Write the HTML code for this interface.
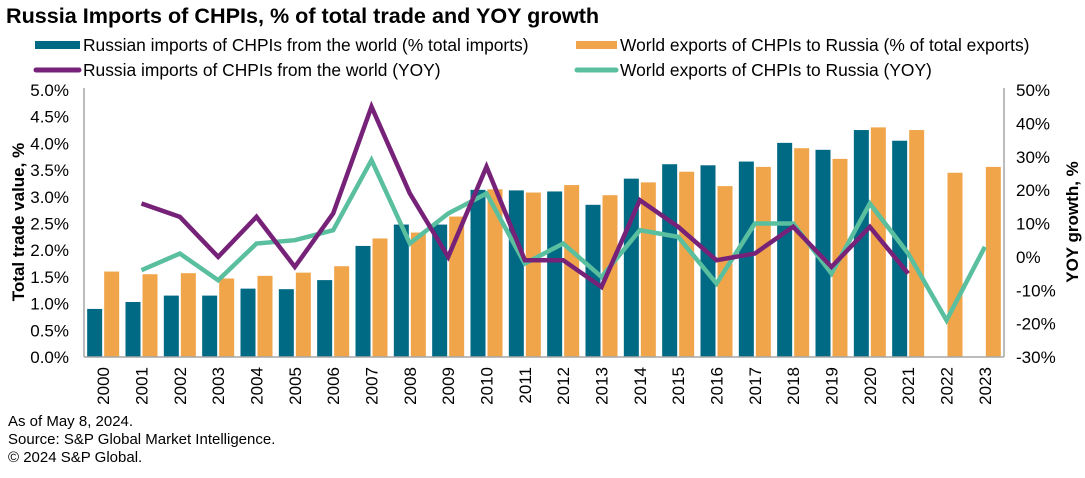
<!DOCTYPE html>
<html><head><meta charset="utf-8"><style>
body{margin:0;background:#fff;}
svg text{font-family:"Liberation Sans",Arial,sans-serif;fill:#000;}
</style></head><body>
<svg id="chart" width="1085" height="473" viewBox="0 0 1085 473" xmlns="http://www.w3.org/2000/svg">
<text x="6" y="23" font-size="21.6" font-weight="bold">Russia Imports of CHPIs, % of total trade and YOY growth</text>
<g font-size="17.4">
<g><rect x="35" y="41" width="45" height="8" fill="#006a84"/><text x="83" y="51">Russian imports of CHPIs from the world (% total imports)</text></g>
<g><rect x="576" y="41" width="41" height="8" fill="#f0a54a"/><text x="620" y="51">World exports of CHPIs to Russia (% of total exports)</text></g>
<g><line x1="36" y1="70" x2="79" y2="70" stroke="#772279" stroke-width="5" stroke-linecap="round"/><text x="83" y="76">Russia imports of CHPIs from the world (YOY)</text></g>
<g><line x1="577" y1="70" x2="616" y2="70" stroke="#5abf9f" stroke-width="5" stroke-linecap="round"/><text x="620" y="76">World exports of CHPIs to Russia (YOY)</text></g>
</g>
<g id="plot"></g>
<text transform="translate(24,222) rotate(-90)" text-anchor="middle" font-size="17" font-weight="bold">Total trade value, %</text>
<text transform="translate(1078,222) rotate(-90)" text-anchor="middle" font-size="17" font-weight="bold">YOY growth, %</text>
<g font-size="15">
<text x="8" y="426">As of May 8, 2024.</text>
<text x="8" y="444">Source: S&amp;P Global Market Intelligence.</text>
<text x="8" y="462">© 2024 S&amp;P Global.</text>
</g>
</svg>
<script>
const years=["2000","2001","2002","2003","2004","2005","2006","2007","2008","2009","2010","2011","2012","2013","2014","2015","2016","2017","2018","2019","2020","2021","2022","2023"];
const russianImportsShare=[0.9,1.03,1.15,1.15,1.28,1.27,1.44,2.08,2.48,2.48,3.13,3.12,3.10,2.85,3.34,3.61,3.59,3.66,4.01,3.88,4.25,4.05,null,null];
const worldExportsShare=[1.60,1.55,1.57,1.47,1.52,1.58,1.70,2.22,2.33,2.63,3.14,3.08,3.22,3.03,3.27,3.47,3.20,3.56,3.91,3.71,4.30,4.25,3.45,3.56];
const russiaImportsYoy=[null,16,12,0,12,-3,13,45,19,0,27,-1,-1,-9,17,9,-1,1,9,-3,9,-5,null,null];
const worldExportsYoy=[null,-4,1,-7,4,5,8,29,4,13,19,-2,4,-6,8,6,-8,10,10,-5,16,1,-19,3];
const leftTicks=[0,0.5,1,1.5,2,2.5,3,3.5,4,4.5,5];
const rightTicks=[-30,-20,-10,0,10,20,30,40,50];

const NS="http://www.w3.org/2000/svg";
const g=document.getElementById('plot');
const X0=84,X1=1004,Y0=357,Y1=90;
const bw=(X1-X0)/years.length;
const xc=i=>X0+bw*(i+0.5);
const yl=v=>Y0-(v-0)/(5-0)*(Y0-Y1);
const yr=v=>Y0-(v+30)/80*(Y0-Y1);
function mk(t,a){const e=document.createElementNS(NS,t);for(const k in a)e.setAttribute(k,a[k]);g.appendChild(e);return e;}

leftTicks.forEach(v=>{const t=mk('text',{x:69,y:yl(v)+6,'text-anchor':'end','font-size':17});t.textContent=v.toFixed(1)+'%';

});
rightTicks.forEach(v=>{const t=mk('text',{x:1016,y:yr(v)+6,'font-size':17});t.textContent=v+'%';

});

years.forEach((y,i)=>{
 if(russianImportsShare[i]!=null){const r=mk('rect',{x:xc(i)-16,y:yl(russianImportsShare[i]),width:15,height:Y0-yl(russianImportsShare[i]),fill:'#006a84'});
 
 }
 if(worldExportsShare[i]!=null){const r=mk('rect',{x:xc(i)+1,y:yl(worldExportsShare[i]),width:15,height:Y0-yl(worldExportsShare[i]),fill:'#f0a54a'});
 
 }
 const t=mk('text',{transform:`translate(${xc(i)+6},367) rotate(-90)`,'text-anchor':'end','font-size':17});t.textContent=y;
 
 
});

function line(arr,color,name){let d='';arr.forEach((v,i)=>{if(v==null)return;d+=(d?'L':'M')+xc(i)+','+yr(v);});
 const p=mk('path',{d:d,fill:'none',stroke:color,'stroke-width':4.5,'stroke-linejoin':'miter'});
 
 }
line(worldExportsYoy,'#5abf9f','line-world-exports-yoy');
line(russiaImportsYoy,'#772279','line-russia-imports-yoy');

const a1=mk('line',{x1:X0,y1:Y1-2,x2:X0,y2:Y0,stroke:'#a6a6a6','stroke-width':1.5});


const a2=mk('line',{x1:X1,y1:Y1-2,x2:X1,y2:Y0,stroke:'#a6a6a6','stroke-width':1.5});


const a3=mk('line',{x1:X0,y1:Y0,x2:X1,y2:Y0,stroke:'#a6a6a6','stroke-width':1.5});


</script>
</body></html>
